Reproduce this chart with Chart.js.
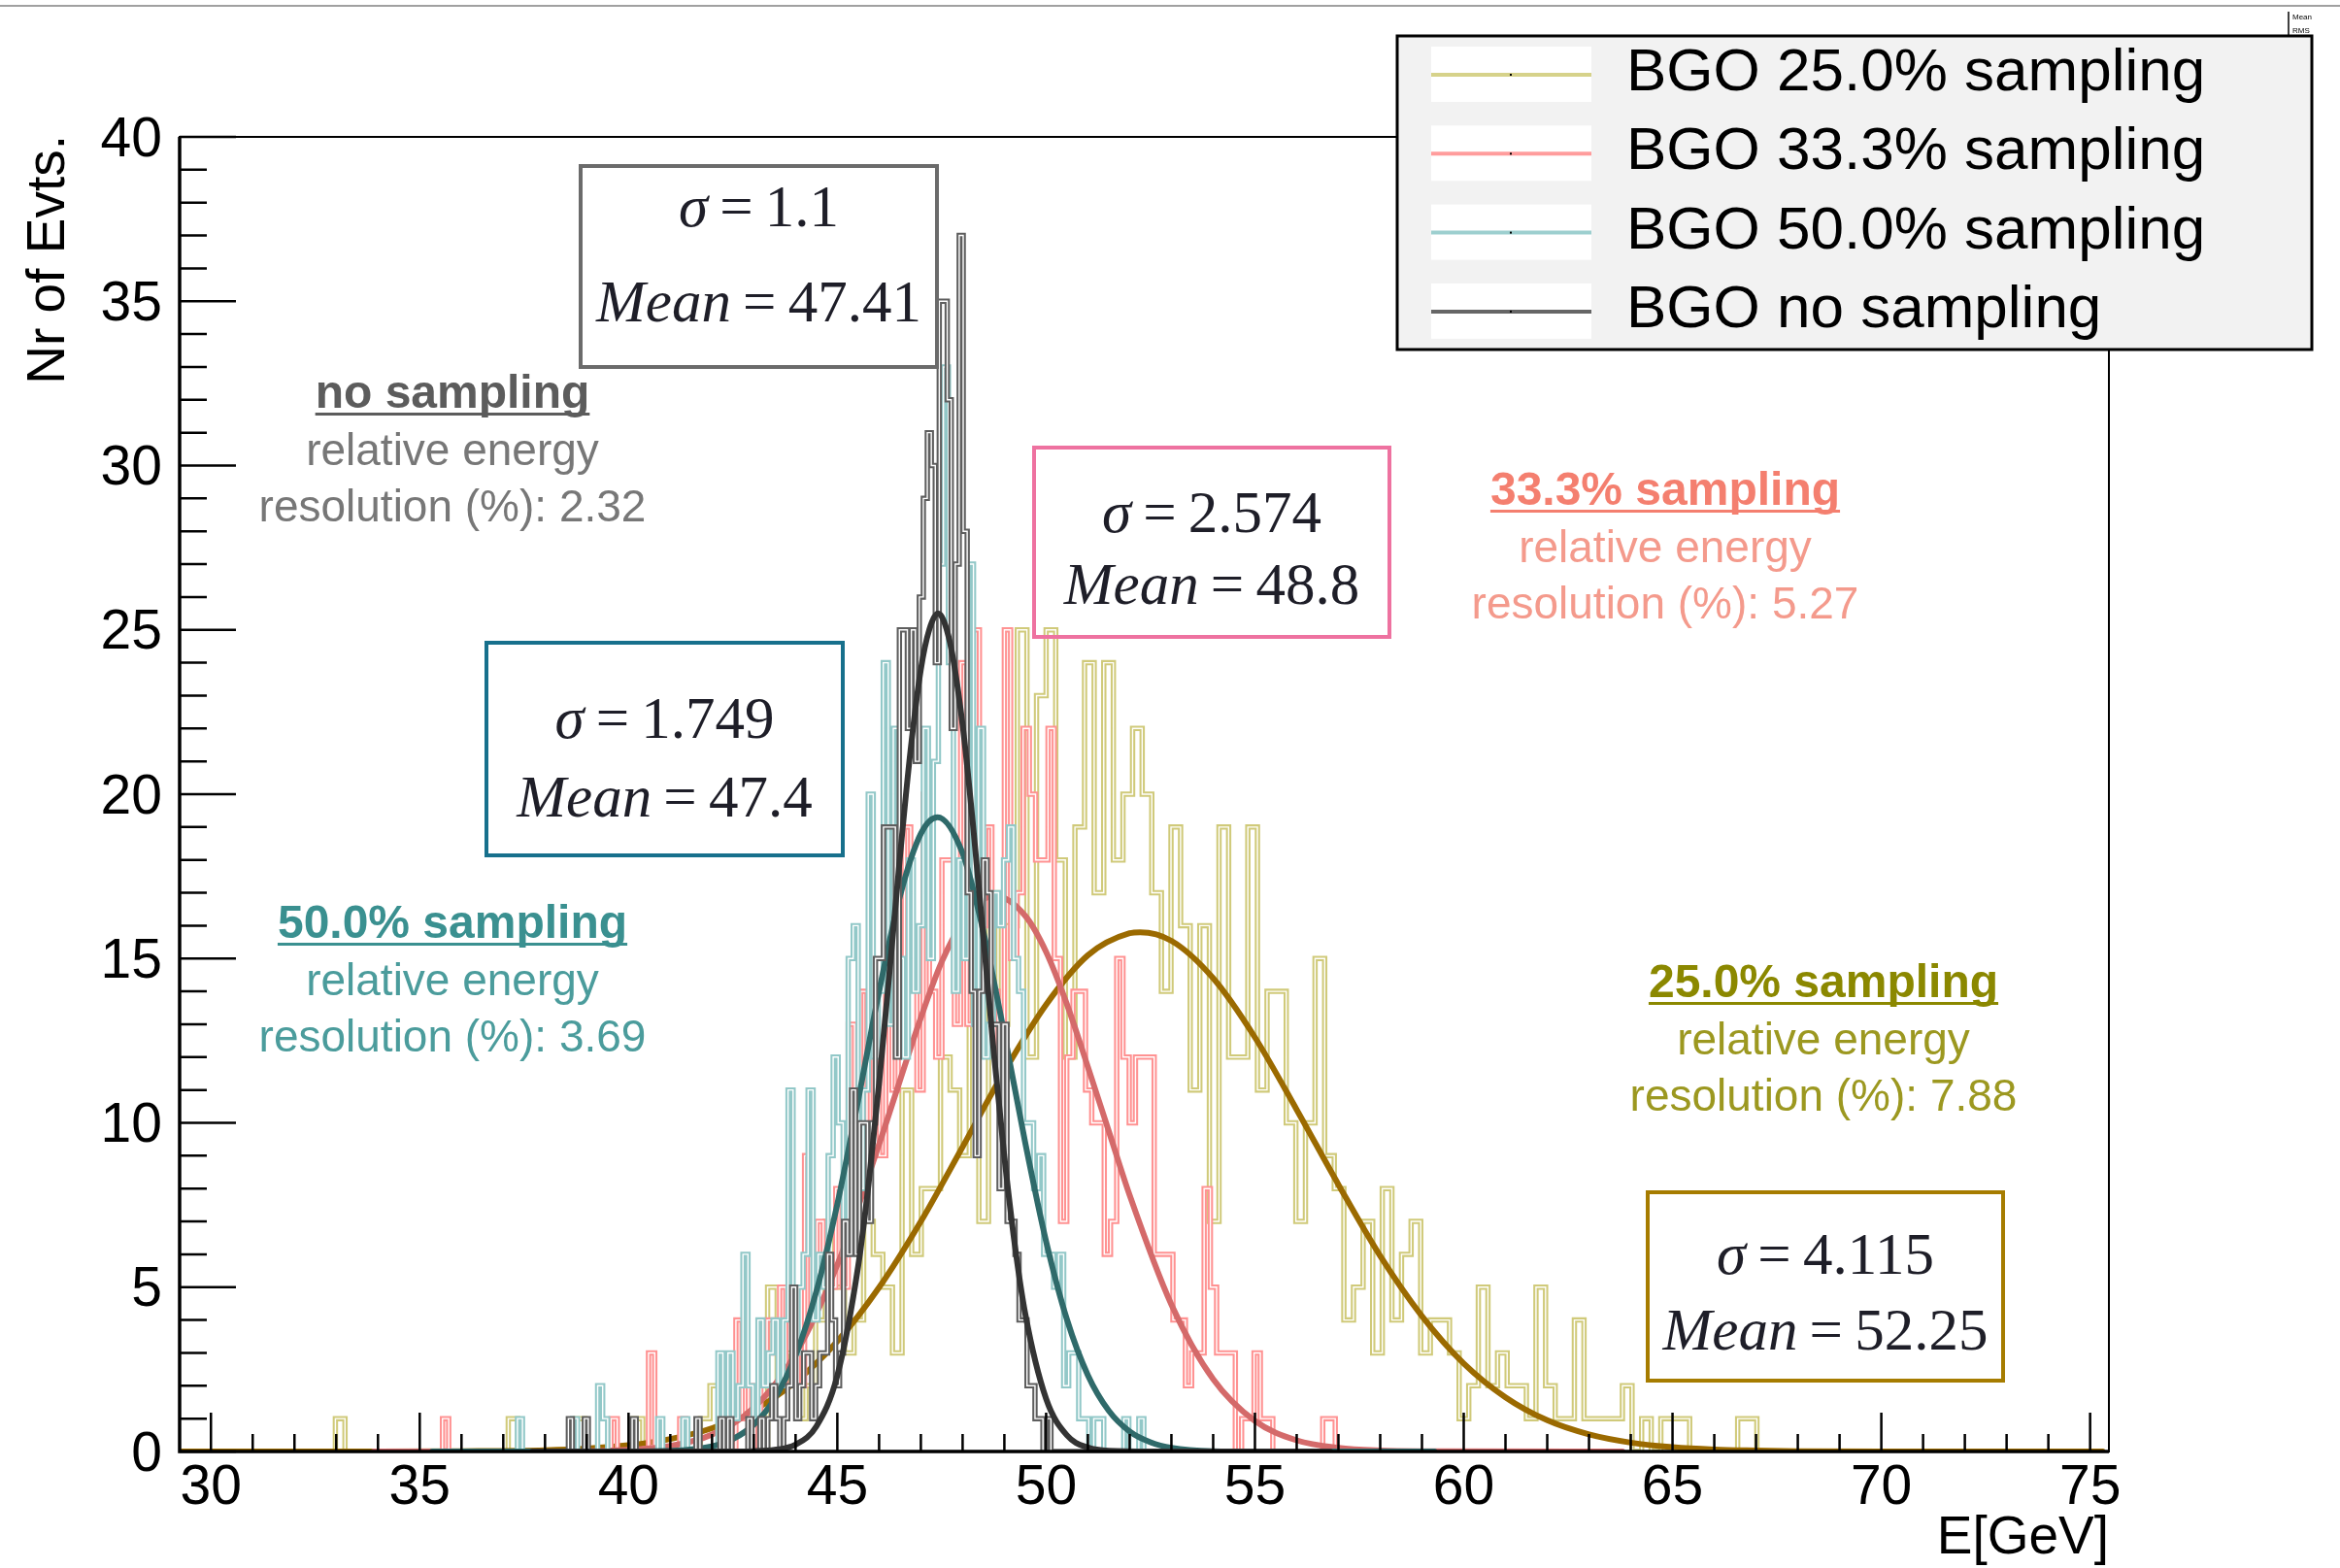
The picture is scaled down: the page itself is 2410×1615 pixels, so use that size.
<!DOCTYPE html>
<html>
<head>
<meta charset="utf-8">
<style>
  html, body { margin: 0; padding: 0; background: #ffffff; }
  #wrap { width: 2410px; height: 1615px; position: relative; }
</style>
<script src="https://cdn.jsdelivr.net/npm/chart.js@4.4.1/dist/chart.umd.min.js"></script>
</head>
<body>
<div id="wrap"><canvas id="chart" width="2410" height="1615"></canvas></div>
<script>
// --- Datos del histograma (cuentas por bin) ---

const xTicks = [30, 35, 40, 45, 50, 55, 60, 65, 70, 75];
const yTicks = [0, 5, 10, 15, 20, 25, 30, 35, 40];

// BGO 25.0% sampling
const yellowLo = 29.3;
const yellowWidth = 0.23;
const yellowCounts = [
  0, 0, 0, 0, 0, 0, 0, 0, 0, 0,
  0, 0, 0, 0, 0, 0, 0, 1, 0, 0,
  0, 0, 0, 0, 0, 0, 0, 0, 0, 0,
  0, 0, 0, 0, 0, 1, 0, 0, 0, 0,
  0, 0, 1, 0, 0, 0, 0, 0, 1, 0,
  0, 0, 0, 0, 0, 1, 2, 1, 0, 0,
  1, 0, 5, 2, 3, 1, 2, 4, 7, 5,
  3, 4, 7, 6, 5, 3, 11, 6, 8, 8,
  12, 11, 9, 14, 7, 17, 13, 16, 25, 12,
  23, 25, 18, 12, 19, 24, 17, 24, 18, 20,
  22, 20, 17, 14, 19, 16, 11, 16, 7, 19,
  12, 12, 19, 11, 14, 14, 10, 7, 10, 15,
  9, 8, 4, 5, 7, 3, 8, 4, 6, 7,
  3, 4, 4, 3, 1, 2, 5, 2, 3, 2,
  2, 1, 5, 2, 1, 1, 4, 1, 1, 1,
  1, 2, 0, 1, 0, 1, 1, 1, 0, 0,
  0, 0, 0, 1, 1, 0, 0, 0, 0, 0,
  0, 0, 0, 0, 0, 0, 0, 0, 0, 0,
  0, 0, 0, 0, 0, 0, 0, 0, 0, 0,
  0, 0, 0, 0, 0, 0, 0, 0, 0, 0
];

// BGO 33.3% sampling
const pinkLo = 33.9;
const pinkWidth = 0.1495;
const pinkCounts = [
  0, 0, 0, 0, 0, 0, 0, 0, 0, 0,
  0, 0, 1, 0, 0, 0, 0, 0, 0, 0,
  0, 0, 0, 0, 0, 0, 0, 0, 0, 0,
  0, 0, 0, 0, 0, 0, 0, 0, 0, 1,
  0, 0, 0, 0, 0, 3, 0, 0, 0, 0,
  1, 0, 0, 0, 0, 0, 0, 1, 0, 4,
  1, 2, 0, 2, 4, 3, 5, 2, 3, 2,
  9, 4, 7, 6, 5, 8, 5, 13, 9, 14,
  10, 12, 9, 14, 11, 13, 19, 15, 11, 20,
  14, 12, 18, 18, 13, 24, 13, 25, 16, 19,
  14, 12, 25, 15, 17, 22, 20, 18, 18, 22,
  15, 7, 12, 14, 14, 11, 10, 10, 6, 7,
  15, 12, 10, 12, 12, 12, 6, 6, 6, 4,
  4, 2, 3, 3, 8, 5, 3, 3, 3, 0,
  1, 1, 3, 1, 1, 0, 0, 0, 0, 0,
  0, 0, 0, 1, 1, 0, 0, 0, 0, 0,
  0, 0, 0, 0, 0, 0, 0, 0, 0, 0,
  0, 0, 0, 0, 0, 0, 0, 0, 0, 0,
  0, 0, 0, 0, 0, 0, 0, 0, 0, 0,
  0, 0, 0, 0, 0, 0, 0, 0, 0, 0
];

// BGO 50.0% sampling
const tealLo = 35.3;
const tealWidth = 0.12;
const tealCounts = [
  0, 0, 0, 0, 0, 0, 0, 0, 0, 0,
  0, 0, 0, 0, 0, 0, 0, 0, 1, 0,
  0, 0, 0, 0, 0, 0, 0, 0, 0, 1,
  0, 0, 0, 0, 2, 1, 0, 0, 0, 0,
  0, 0, 0, 0, 0, 0, 1, 0, 0, 0,
  0, 1, 0, 0, 0, 0, 0, 0, 3, 1,
  3, 1, 2, 6, 2, 1, 4, 2, 3, 4,
  2, 4, 11, 3, 5, 6, 11, 4, 6, 5,
  9, 12, 10, 6, 15, 16, 8, 11, 20, 12,
  14, 24, 13, 22, 15, 12, 18, 14, 16, 22,
  15, 21, 27, 33, 24, 14, 18, 15, 27, 13,
  22, 12, 13, 17, 16, 18, 19, 15, 14, 10,
  10, 8, 9, 6, 6, 5, 6, 2, 3, 3,
  1, 1, 0, 1, 1, 0, 0, 0, 0, 1,
  0, 0, 1, 0, 0, 0, 0, 0, 0, 0,
  0, 0, 0, 0, 0, 0, 0, 0, 0, 0,
  0, 0, 0, 0, 0, 0, 0, 0, 0, 0,
  0, 0, 0, 0, 0, 0, 0, 0, 0, 0,
  0, 0, 0, 0, 0, 0, 0, 0, 0, 0,
  0, 0, 0, 0, 0, 0, 0, 0, 0, 0
];

// BGO no sampling
const grayLo = 37.7;
const grayWidth = 0.0955;
const grayCounts = [
  0, 0, 0, 0, 0, 0, 0, 0, 0, 0,
  1, 0, 0, 0, 1, 0, 0, 0, 0, 0,
  0, 0, 0, 0, 0, 0, 1, 0, 0, 0,
  0, 0, 0, 0, 0, 0, 0, 0, 0, 0,
  0, 0, 1, 0, 0, 0, 0, 0, 1, 0,
  1, 0, 0, 0, 0, 1, 0, 0, 1, 0,
  1, 2, 1, 0, 1, 2, 5, 1, 2, 3,
  3, 1, 2, 3, 3, 6, 4, 2, 3, 7,
  6, 11, 6, 10, 10, 7, 10, 15, 15, 19,
  19, 19, 12, 25, 25, 22, 25, 21, 26, 29,
  31, 30, 24, 35, 35, 32, 22, 27, 37, 28,
  17, 14, 9, 14, 18, 17, 13, 13, 8, 13,
  7, 7, 6, 4, 4, 2, 2, 1, 1, 0,
  1, 0, 0, 0, 0, 0, 0, 0, 0, 0,
  0, 0, 0, 0, 0, 0, 0, 0, 0, 0,
  0, 0, 0, 0, 0, 0, 0, 0, 0, 0,
  0, 0, 0, 0, 0, 0, 0, 0, 0, 0,
  0, 0, 0, 0, 0, 0, 0, 0, 0, 0,
  0, 0, 0, 0, 0, 0, 0, 0, 0, 0,
  0, 0, 0, 0, 0, 0, 0, 0, 0, 0
];

// Curvas de ajuste
const goldFitX = [29.3, 34, 36, 38, 39, 40, 41, 42, 43, 44, 45, 46, 47, 48, 49, 50, 51, 52, 52.25,
  53, 54, 55, 56, 57, 58, 59, 60, 61, 62, 63, 64, 65, 66, 67, 68, 70, 75.3];
const goldFitY = [0, 0, 0.01, 0.04, 0.09, 0.19, 0.38, 0.71, 1.26, 2.12, 3.35, 4.99, 7.0, 9.27, 11.57, 13.6, 15.1, 15.77, 15.8,
  15.54, 14.4, 12.6, 10.4, 8.12, 5.95, 4.12, 2.68, 1.65, 0.95, 0.52, 0.27, 0.13, 0.06, 0.03, 0.01, 0, 0];

const pinkFitX = [33.9, 38, 39, 40, 41, 42, 43, 44, 45, 46, 47, 47.5, 48, 48.5, 48.8, 49.5, 50, 50.5, 51, 51.5, 52,
  53, 54, 55, 56, 57, 58, 59, 63.8];
const pinkFitY = [0, 0, 0.01, 0.05, 0.17, 0.52, 1.33, 2.97, 5.68, 9.35, 13.2, 14.9, 16.1, 16.8, 16.9, 16.3, 15.2, 13.6, 11.7, 9.75, 7.8,
  4.47, 2.2, 0.93, 0.34, 0.11, 0.03, 0.01, 0];

const tealFitX = [35.3, 40, 41, 42, 42.5, 43, 43.5, 44, 44.5, 45, 45.5, 46, 46.5, 47, 47.4,
  48, 48.5, 49, 49.5, 50, 50.5, 51, 51.5, 52, 52.5, 53, 54, 55, 59.3];
const tealFitY = [0, 0, 0.02, 0.16, 0.38, 0.82, 1.61, 2.92, 4.88, 7.53, 10.7, 14.0, 16.9, 18.8, 19.3,
  18.2, 15.8, 12.7, 9.39, 6.39, 4.01, 2.32, 1.24, 0.61, 0.28, 0.11, 0.01, 0, 0];

const grayFitX = [37.7, 42, 43, 43.5, 44, 44.5, 45, 45.5, 45.75, 46, 46.25, 46.5, 46.75, 47, 47.2, 47.41,
  47.7, 48, 48.25, 48.5, 48.75, 49, 49.25, 49.5, 50, 50.5, 51, 51.5, 52.5, 56.8];
const grayFitY = [0, 0, 0.01, 0.05, 0.21, 0.77, 2.31, 5.65, 8.16, 11.2, 14.6, 18.1, 21.3, 23.8, 25.0, 25.5,
  24.6, 22.1, 19.05, 15.6, 12.1, 8.97, 6.29, 4.19, 1.6, 0.49, 0.12, 0.02, 0, 0];

const legendLabels = ['BGO 25.0% sampling', 'BGO 33.3% sampling', 'BGO 50.0% sampling', 'BGO no sampling'];
const fitSigma = ['4.115', '2.574', '1.749', '1.1'];
const fitMean = ['52.25', '48.8', '47.4', '47.41'];
const resTitles = ['25.0% sampling', '33.3% sampling', '50.0% sampling', 'no sampling'];
const resValues = ['7.88', '5.27', '3.69', '2.32'];

// --- Estilos ---
const SANS = '"Liberation Sans", Arial, Helvetica, sans-serif';
const SERIF = '"Liberation Serif", "Times New Roman", serif';

const histColors = ['#d0ca7a', '#ff9292', '#92c8c8', '#5e5e5e'];
const legendColors = ['#d6d28a', '#ff9c9c', '#9dcfcf', '#666666'];
const fitColors = ['#9b6a00', '#d46a6a', '#2f6a6a', '#333333'];

// posiciones de cuadros y textos (en píxeles del lienzo)
const boxStyles = [
  { x1: 1697, y1: 1228, x2: 2063, y2: 1422, color: '#a67c00', b1: 1312, b2: 1390 },
  { x1: 1065, y1: 461, x2: 1431, y2: 656, color: '#ee72a0', b1: 548, b2: 622 },
  { x1: 501, y1: 662, x2: 868, y2: 881, color: '#17708c', b1: 760, b2: 841 },
  { x1: 598, y1: 171, x2: 965, y2: 378, color: '#6b6b6b', b1: 233, b2: 331 }
];
const noteStyles = [
  { x: 1878, y: 1027, head: '#8b8800', body: '#9c9820' },
  { x: 1715, y: 520, head: '#f47f6f', body: '#f49a8c' },
  { x: 466, y: 966, head: '#3a9090', body: '#4b9c9c' },
  { x: 466, y: 420, head: '#5c5c5c', body: '#777777' }
];

/**
 * Convierte bins (borde inferior, ancho, cuentas) en puntos para línea escalonada.
 */
function histPoints(lo, width, counts) {
  const pts = [{ x: lo, y: 0 }];
  counts.forEach((c, i) => pts.push({ x: lo + i * width, y: c }));
  pts.push({ x: lo + counts.length * width, y: 0 });
  return pts;
}

function curvePoints(xs, ys) {
  return xs.map((x, i) => ({ x: x, y: ys[i] }));
}

const series = [
  { lo: yellowLo, w: yellowWidth, counts: yellowCounts, fx: goldFitX, fy: goldFitY },
  { lo: pinkLo, w: pinkWidth, counts: pinkCounts, fx: pinkFitX, fy: pinkFitY },
  { lo: tealLo, w: tealWidth, counts: tealCounts, fx: tealFitX, fy: tealFitY },
  { lo: grayLo, w: grayWidth, counts: grayCounts, fx: grayFitX, fy: grayFitY }
];

// de abajo hacia arriba
const datasets = [];
series.forEach((s, k) => {
  datasets.push({
    data: histPoints(s.lo, s.w, s.counts),
    borderColor: histColors[k], borderWidth: 5.5, stepped: 'after', fill: false, pointRadius: 0
  });
  datasets.push({
    data: histPoints(s.lo, s.w, s.counts),
    borderColor: '#ffffff', borderWidth: 1.4, stepped: 'after', fill: false, pointRadius: 0
  });
  datasets.push({
    data: curvePoints(s.fx, s.fy),
    borderColor: fitColors[k], borderWidth: 6, cubicInterpolationMode: 'monotone',
    fill: false, pointRadius: 0, borderCapStyle: 'round'
  });
});
datasets.forEach((d, i) => { d.order = datasets.length - i; });

function drawMath(ctx, sym, rest, cx, baseline, size) {
  const it = `italic ${size}px ${SERIF}`;
  const up = `${size}px ${SERIF}`;
  ctx.font = it;
  const w1 = ctx.measureText(sym).width;
  ctx.font = up;
  const w2 = ctx.measureText(rest).width;
  const x0 = cx - (w1 + w2) / 2;
  ctx.textAlign = 'left';
  ctx.font = it;
  ctx.fillText(sym, x0, baseline);
  ctx.font = up;
  ctx.fillText(rest, x0 + w1, baseline);
}

const rootFrame = {
  id: 'rootFrame',
  afterDatasetsDraw(chart) {
    const { ctx, chartArea: a, scales } = chart;
    const x = scales.x, y = scales.y;
    ctx.save();
    ctx.strokeStyle = '#000';
    ctx.lineWidth = 2.5;
    ctx.beginPath();
    for (let v = xTicks[0]; v <= xTicks[xTicks.length - 1]; v += 1) {
      const px = x.getPixelForValue(v);
      const len = xTicks.includes(v) ? 40 : 18;
      ctx.moveTo(px, a.bottom);
      ctx.lineTo(px, a.bottom - len);
    }
    for (let v = yTicks[0]; v <= yTicks[yTicks.length - 1]; v += 1) {
      const py = y.getPixelForValue(v);
      const len = yTicks.includes(v) ? 58 : 28;
      ctx.moveTo(a.left, py);
      ctx.lineTo(a.left + len, py);
    }
    ctx.stroke();
    ctx.lineWidth = 2;
    ctx.strokeRect(a.left, a.top, a.right - a.left, a.bottom - a.top);
    ctx.lineWidth = 3.5;
    ctx.beginPath();
    ctx.moveTo(a.left, a.top);
    ctx.lineTo(a.left, a.bottom);
    ctx.lineTo(a.right, a.bottom);
    ctx.stroke();
    ctx.restore();
  },
  afterDraw(chart) {
    const ctx = chart.ctx;
    ctx.save();

    // línea superior y caja de estadísticas
    ctx.strokeStyle = '#a0a0a0';
    ctx.lineWidth = 2;
    ctx.beginPath();
    ctx.moveTo(0, 6); ctx.lineTo(2410, 6);
    ctx.stroke();
    ctx.strokeStyle = '#000';
    ctx.lineWidth = 1.5;
    ctx.beginPath();
    ctx.moveTo(2357, 12); ctx.lineTo(2357, 40);
    ctx.stroke();
    ctx.fillStyle = '#000';
    ctx.font = `8px ${SANS}`;
    ctx.textAlign = 'left';
    ctx.fillText('Mean', 2361, 20);
    ctx.fillText('RMS', 2361, 34);

    // títulos de ejes
    ctx.fillStyle = '#000';
    ctx.font = `55px ${SANS}`;
    ctx.textAlign = 'right';
    ctx.textBaseline = 'alphabetic';
    ctx.fillText('E[GeV]', 2172, 1600);
    ctx.save();
    ctx.translate(66, 139);
    ctx.rotate(-Math.PI / 2);
    ctx.textAlign = 'right';
    ctx.fillText('Nr of Evts.', 0, 0);
    ctx.restore();

    // cuadros sigma / media
    boxStyles.forEach((b, k) => {
      ctx.strokeStyle = b.color;
      ctx.lineWidth = 4;
      ctx.strokeRect(b.x1, b.y1, b.x2 - b.x1, b.y2 - b.y1);
      ctx.fillStyle = '#1e1e28';
      const cx = (b.x1 + b.x2) / 2;
      drawMath(ctx, 'σ', '\u2009=\u2009' + fitSigma[k], cx, b.b1, 61);
      drawMath(ctx, 'Mean', '\u2009=\u2009' + fitMean[k], cx, b.b2, 61);
    });

    // textos de resolución
    noteStyles.forEach((n, k) => {
      ctx.textAlign = 'center';
      ctx.font = `bold 48px ${SANS}`;
      ctx.fillStyle = n.head;
      ctx.fillText(resTitles[k], n.x, n.y);
      const w = ctx.measureText(resTitles[k]).width;
      ctx.fillRect(n.x - w / 2, n.y + 5, w, 3);
      ctx.font = `46px ${SANS}`;
      ctx.fillStyle = n.body;
      ctx.fillText('relative energy', n.x, n.y + 59);
      ctx.fillText('resolution (%): ' + resValues[k], n.x, n.y + 117);
    });

    // leyenda
    ctx.fillStyle = '#f2f2f2';
    ctx.fillRect(1439, 37, 942, 323);
    ctx.strokeStyle = '#000';
    ctx.lineWidth = 3;
    ctx.strokeRect(1439, 37, 942, 323);
    legendLabels.forEach((label, k) => {
      const top = 48 + k * 81.3;
      ctx.fillStyle = '#ffffff';
      ctx.fillRect(1474, top, 165, 57);
      ctx.strokeStyle = legendColors[k];
      ctx.lineWidth = 4;
      ctx.beginPath();
      ctx.moveTo(1474, top + 29);
      ctx.lineTo(1639, top + 29);
      ctx.stroke();
      ctx.fillStyle = '#000';
      ctx.fillRect(1555, top + 28, 2, 2);
      ctx.font = `62px ${SANS}`;
      ctx.textAlign = 'left';
      ctx.fillText(label, 1675, top + 45);
    });

    ctx.restore();
  }
};

new Chart(document.getElementById('chart'), {
  type: 'line',
  data: { datasets: datasets },
  options: {
    responsive: false,
    animation: false,
    events: [],
    layout: { padding: { left: 0, top: 141, right: 238, bottom: 0 } },
    plugins: { legend: { display: false }, tooltip: { enabled: false } },
    elements: { point: { radius: 0 }, line: { tension: 0 } },
    scales: {
      x: {
        type: 'linear', min: 29.25, max: 75.45,
        grid: { display: false, drawTicks: false },
        border: { display: false },
        afterBuildTicks: s => { s.ticks = xTicks.map(v => ({ value: v })); },
        afterFit: s => { s.height = 120; },
        ticks: { font: { family: SANS, size: 57 }, color: '#000', padding: 4, maxRotation: 0, minRotation: 0, autoSkip: false }
      },
      y: {
        type: 'linear', min: 0, max: 40,
        grid: { display: false, drawTicks: false },
        border: { display: false },
        afterBuildTicks: s => { s.ticks = yTicks.map(v => ({ value: v })); },
        afterFit: s => { s.width = 185; },
        ticks: { font: { family: SANS, size: 57 }, color: '#000', padding: 18, labelOffset: 4, autoSkip: false }
      }
    }
  },
  plugins: [rootFrame]
});
</script>
</body>
</html>
